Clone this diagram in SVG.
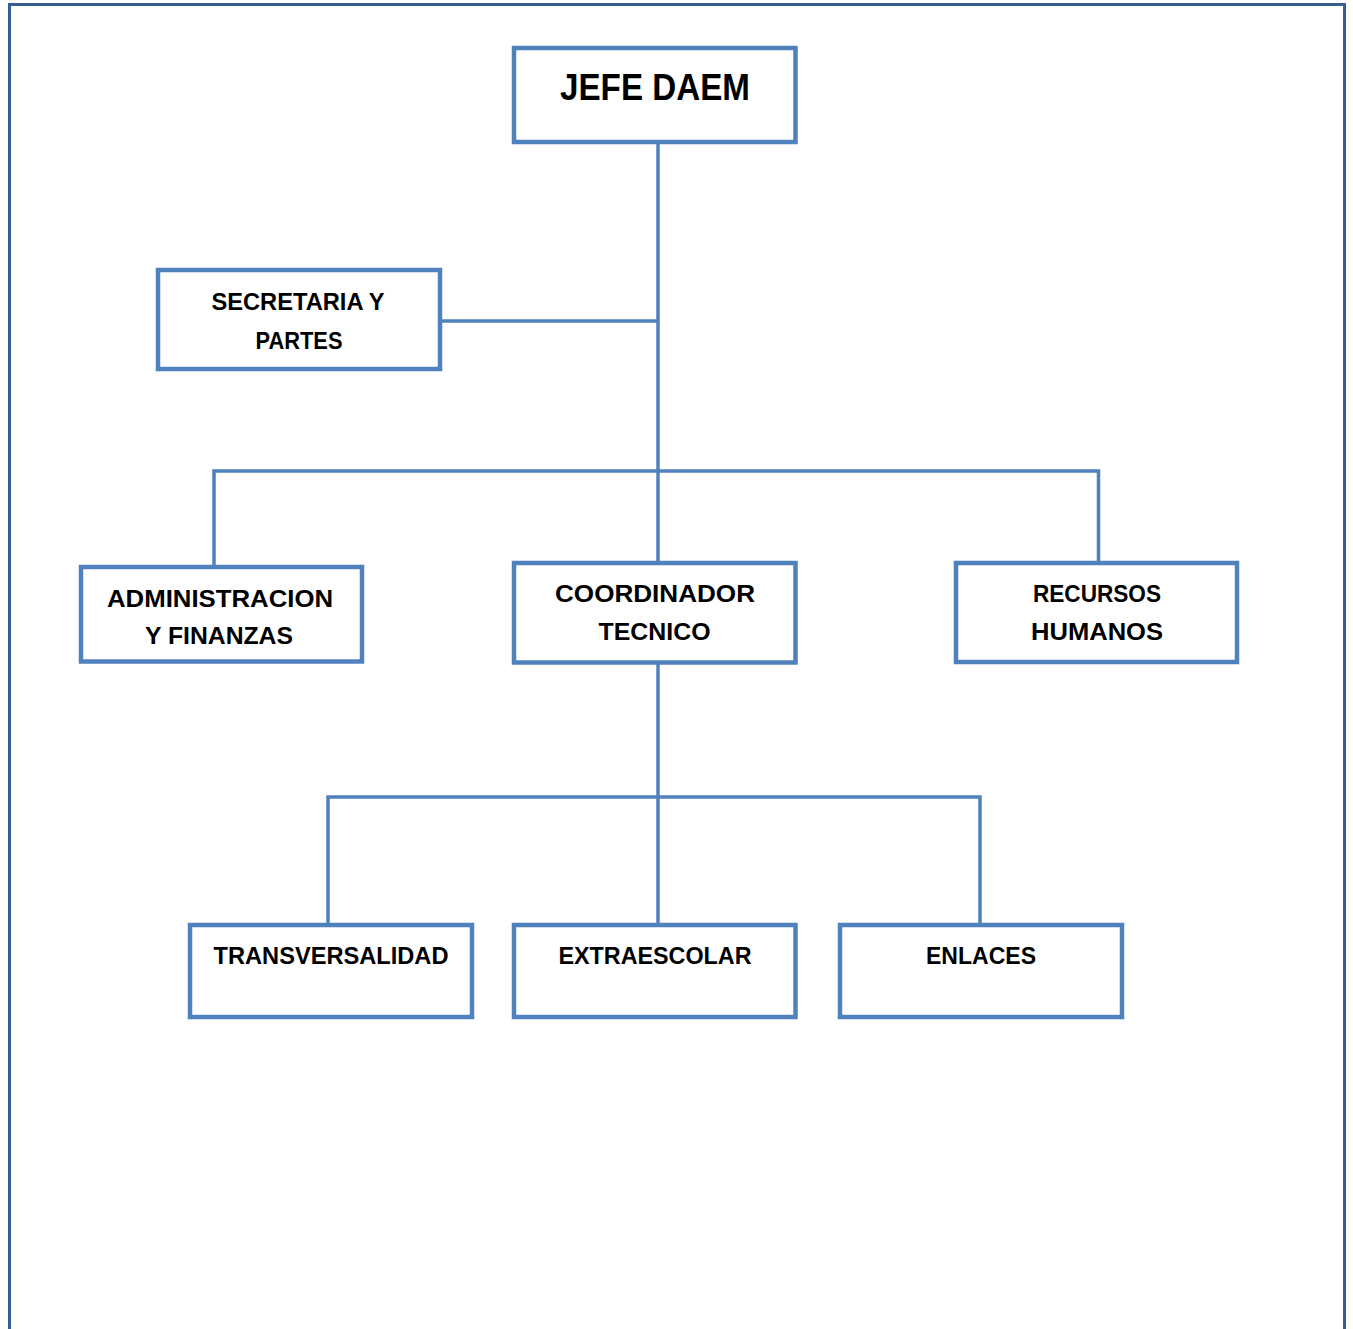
<svg xmlns="http://www.w3.org/2000/svg" width="1353" height="1329" viewBox="0 0 1353 1329">
<style>
.page{fill:none;stroke:#365f91;stroke-width:3}
.box{fill:#ffffff;stroke:#4f81bd;stroke-width:4.5}
.conn{fill:none;stroke:#4f81bd;stroke-width:3.5}
.lbl{font-family:"Liberation Sans",Arial,sans-serif;font-weight:bold;font-size:24px;fill:#000000;text-anchor:middle}
.big{font-size:36px}
</style>
<rect width="1353" height="1329" fill="#ffffff"/>
<path class="page" d="M9.5,1329 V4.5 H1344.5 V1329"/>
<g id="connectors">
<path class="conn" d="M658,142 V563"/>
<path class="conn" d="M440,321 H658"/>
<path class="conn" d="M214,567 V471 H1098.5 V563"/>
<path class="conn" d="M658,662.5 V925"/>
<path class="conn" d="M328,925 V797 H980 V925"/>
</g>
<g id="jefe-daem">
<rect class="box" x="514" y="48" width="281.5" height="94"/>
<text class="lbl big" x="655" y="99.5" textLength="190" lengthAdjust="spacingAndGlyphs">JEFE DAEM</text>
</g>
<g id="secretaria">
<rect class="box" x="158" y="270" width="282" height="99"/>
<text class="lbl" x="298" y="310" textLength="173" lengthAdjust="spacingAndGlyphs">SECRETARIA Y</text>
<text class="lbl" x="299" y="348.5" textLength="87" lengthAdjust="spacingAndGlyphs">PARTES</text>
</g>
<g id="administracion">
<rect class="box" x="81" y="567" width="281" height="94.5"/>
<text class="lbl" x="220" y="606.5" textLength="226" lengthAdjust="spacingAndGlyphs">ADMINISTRACION</text>
<text class="lbl" x="219" y="644" textLength="148" lengthAdjust="spacingAndGlyphs">Y FINANZAS</text>
</g>
<g id="coordinador">
<rect class="box" x="514" y="563" width="281.5" height="99.5"/>
<text class="lbl" x="655" y="601.5" textLength="200" lengthAdjust="spacingAndGlyphs">COORDINADOR</text>
<text class="lbl" x="654.5" y="640" textLength="112" lengthAdjust="spacingAndGlyphs">TECNICO</text>
</g>
<g id="recursos">
<rect class="box" x="956" y="563" width="281" height="99"/>
<text class="lbl" x="1097" y="601.5" textLength="128" lengthAdjust="spacingAndGlyphs">RECURSOS</text>
<text class="lbl" x="1097" y="639.5" textLength="132" lengthAdjust="spacingAndGlyphs">HUMANOS</text>
</g>
<g id="transversalidad">
<rect class="box" x="190" y="925" width="282" height="92"/>
<text class="lbl" x="331" y="963.5" textLength="235" lengthAdjust="spacingAndGlyphs">TRANSVERSALIDAD</text>
</g>
<g id="extraescolar">
<rect class="box" x="514" y="925" width="281.5" height="92"/>
<text class="lbl" x="655" y="963.5" textLength="193" lengthAdjust="spacingAndGlyphs">EXTRAESCOLAR</text>
</g>
<g id="enlaces">
<rect class="box" x="840" y="925" width="282" height="92"/>
<text class="lbl" x="981" y="963.5" textLength="110" lengthAdjust="spacingAndGlyphs">ENLACES</text>
</g>
</svg>
